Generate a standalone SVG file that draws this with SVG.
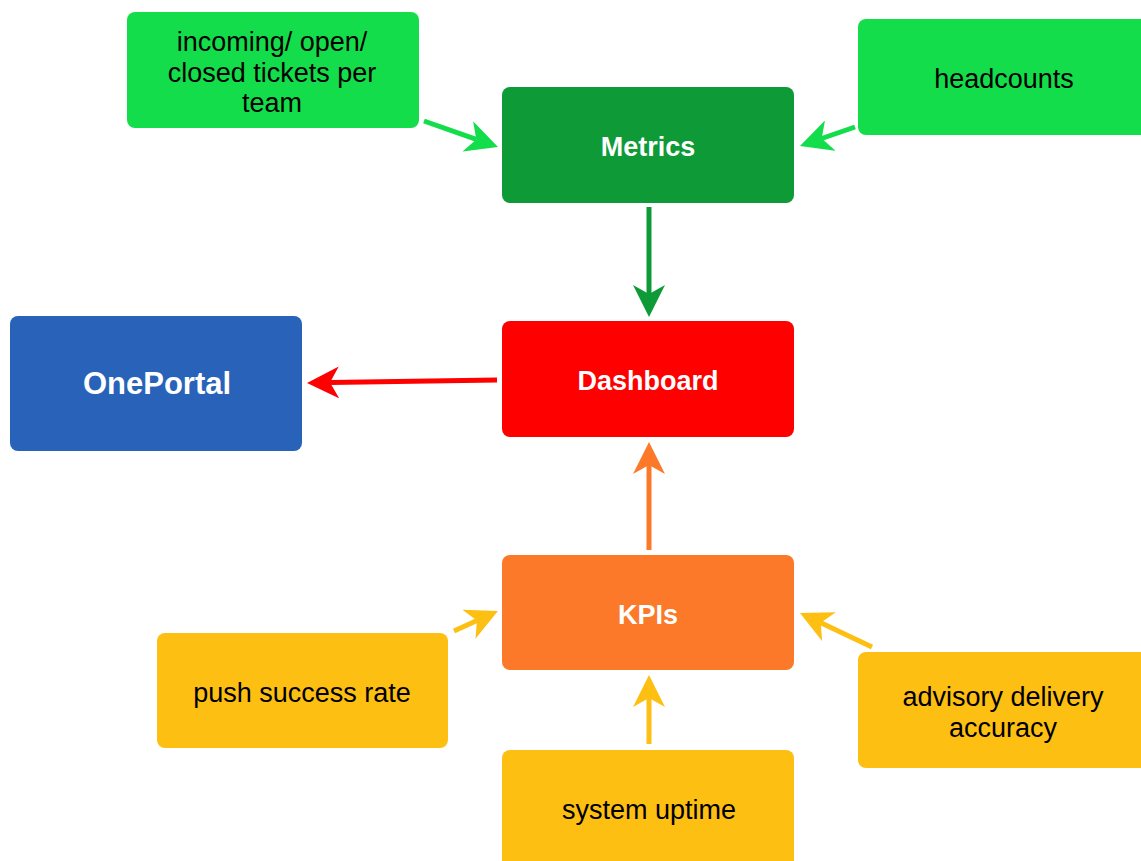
<svg xmlns="http://www.w3.org/2000/svg" width="1141" height="861" viewBox="0 0 1141 861">
<style>
.t{font-family:"Liberation Sans",Arial,sans-serif;font-size:27px;fill:#000;text-anchor:middle}
.b{font-family:"Liberation Sans",Arial,sans-serif;font-size:27px;font-weight:bold;fill:#fff;text-anchor:middle}
.c{fill:none;stroke-width:5}
</style>
<defs>
<marker id="mLg" markerUnits="userSpaceOnUse" markerWidth="32" markerHeight="32" refX="9" refY="16" orient="auto" viewBox="0 0 32 32"><path d="M0,0 L32,16 L0,32 L9,16 z" fill="#13dd4a"/></marker>
<marker id="mDg" markerUnits="userSpaceOnUse" markerWidth="32" markerHeight="32" refX="9" refY="16" orient="auto" viewBox="0 0 32 32"><path d="M0,0 L32,16 L0,32 L9,16 z" fill="#0e9a36"/></marker>
<marker id="mR" markerUnits="userSpaceOnUse" markerWidth="32" markerHeight="32" refX="9" refY="16" orient="auto" viewBox="0 0 32 32"><path d="M0,0 L32,16 L0,32 L9,16 z" fill="#ff0000"/></marker>
<marker id="mO" markerUnits="userSpaceOnUse" markerWidth="32" markerHeight="32" refX="9" refY="16" orient="auto" viewBox="0 0 32 32"><path d="M0,0 L32,16 L0,32 L9,16 z" fill="#fb7928"/></marker>
<marker id="mY" markerUnits="userSpaceOnUse" markerWidth="32" markerHeight="32" refX="9" refY="16" orient="auto" viewBox="0 0 32 32"><path d="M0,0 L32,16 L0,32 L9,16 z" fill="#fdbf12"/></marker>
</defs>
<rect width="1141" height="861" fill="#fff"/>
<g id="connectors">
<line class="c" x1="424" y1="121" x2="476.3" y2="139.4" stroke="#13dd4a" marker-end="url(#mLg)"/>
<line class="c" x1="855" y1="127" x2="821.7" y2="138.5" stroke="#13dd4a" marker-end="url(#mLg)"/>
<line class="c" x1="649" y1="207" x2="649" y2="294" stroke="#0e9a36" marker-end="url(#mDg)"/>
<line class="c" x1="497" y1="380" x2="330" y2="382.6" stroke="#ff0000" marker-end="url(#mR)"/>
<line class="c" x1="649" y1="550" x2="649" y2="465" stroke="#fb7928" marker-end="url(#mO)"/>
<line class="c" x1="454" y1="631" x2="477" y2="620.5" stroke="#fdbf12" marker-end="url(#mY)"/>
<line class="c" x1="872" y1="647" x2="820.8" y2="622.8" stroke="#fdbf12" marker-end="url(#mY)"/>
<line class="c" x1="649" y1="744" x2="649" y2="698" stroke="#fdbf12" marker-end="url(#mY)"/>
</g>
<g id="incoming">
<rect x="127" y="12" width="292" height="116" rx="8" fill="#13dd4a"/>
<text class="t" x="272" y="51">incoming/ open/</text>
<text class="t" x="272" y="82">closed tickets per</text>
<text class="t" x="272" y="112">team</text>
</g>
<g id="headcounts">
<rect x="858" y="19" width="292" height="116" rx="8" fill="#13dd4a"/>
<text class="t" x="1004" y="88">headcounts</text>
</g>
<g id="metrics">
<rect x="502" y="87" width="292" height="116" rx="8" fill="#0e9a36"/>
<text class="b" x="648" y="156">Metrics</text>
</g>
<g id="dashboard">
<rect x="502" y="321" width="292" height="116" rx="8" fill="#ff0000"/>
<text class="b" x="648" y="390">Dashboard</text>
</g>
<g id="oneportal">
<rect x="10" y="316" width="292" height="135" rx="8" fill="#2862b9"/>
<text class="b" x="157" y="394" style="font-size:31px">OnePortal</text>
</g>
<g id="kpis">
<rect x="502" y="555" width="292" height="115" rx="8" fill="#fb7928"/>
<text class="b" x="648" y="624">KPIs</text>
</g>
<g id="push">
<rect x="157" y="633" width="291" height="115" rx="8" fill="#fdbf12"/>
<text class="t" x="302" y="702">push success rate</text>
</g>
<g id="advisory">
<rect x="858" y="652" width="292" height="116" rx="8" fill="#fdbf12"/>
<text class="t" x="1003" y="706">advisory delivery</text>
<text class="t" x="1003" y="737">accuracy</text>
</g>
<g id="uptime">
<rect x="502" y="750" width="292" height="120" rx="8" fill="#fdbf12"/>
<text class="t" x="649" y="819">system uptime</text>
</g>
</svg>
